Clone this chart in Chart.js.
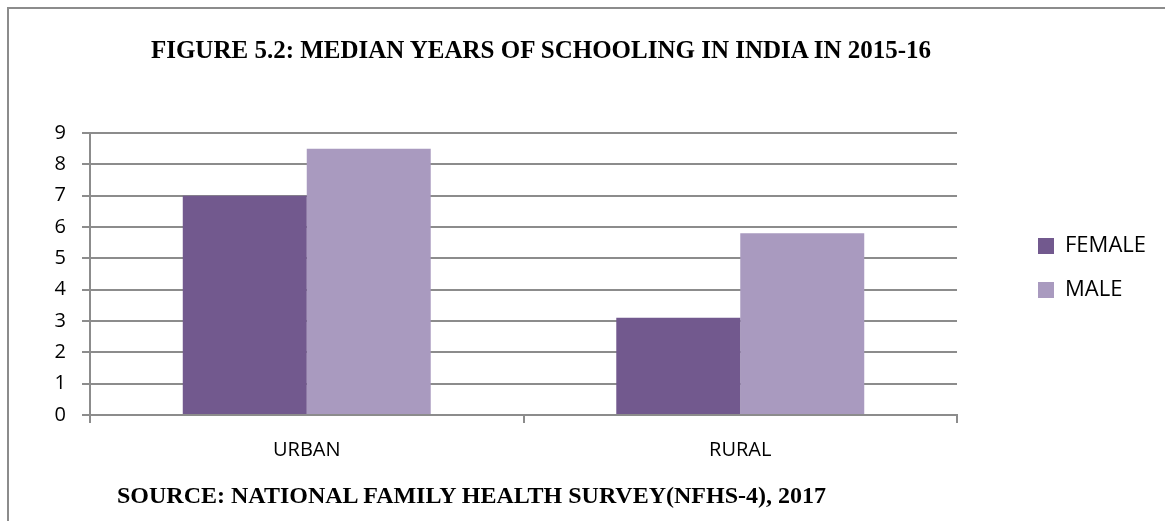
<!DOCTYPE html>
<html lang="en">
  <head>
    <meta charset="UTF-8" />
    <title>Median years of schooling</title>
    <script src="https://cdn.jsdelivr.net/npm/chart.js@4.4.0/dist/chart.umd.min.js"></script>
    <style>
      body { margin: 0; background: #fff; }
      #frame {
        position: absolute; left: 7px; top: 7px; width: 1160px; height: 520px;
        border-left: 2px solid #8c8c8c; border-top: 2px solid #8c8c8c;
      }
      #wrap { position: absolute; left: 0; top: 0; width: 1165px; height: 521px; }
      .caption {
        position: absolute; font-family: "Liberation Serif", serif; font-weight: bold;
        color: #000; white-space: nowrap;
      }
      #title { left: 0; width: 1082px; text-align: center; top: 36px; font-size: 25px; }
      #source { left: 117px; top: 482px; font-size: 24px; }
    </style>
  </head>
  <body>
    <div id="frame"></div>
    <div id="wrap"><canvas id="schooling-graph"></canvas></div>
    <div class="caption" id="title">FIGURE 5.2: MEDIAN YEARS OF SCHOOLING IN INDIA IN 2015-16</div>
    <div class="caption" id="source">SOURCE: NATIONAL FAMILY HEALTH SURVEY(NFHS-4), 2017</div>

    <script>
      const categories = ['URBAN', 'RURAL'];
      const female = [7.0, 3.1];
      const male = [8.5, 5.8];
      const yTicks = [0, 1, 2, 3, 4, 5, 6, 7, 8, 9];

      const tickFont = { family: "'Open Sans', sans-serif", size: 20 };
      const legendFont = { family: "'Open Sans', sans-serif", size: 22 };

      const ctx = document.getElementById('schooling-graph').getContext('2d');
      var schoolingGraph = new Chart(ctx, {
        type: 'bar',
        data: {
          labels: categories,
          datasets: [
            { label: 'FEMALE', data: female, backgroundColor: '#72598e', borderWidth: 0 },
            { label: 'MALE', data: male, backgroundColor: '#a99abf', borderWidth: 0 }
          ]
        },
        options: {
          responsive: true,
          maintainAspectRatio: false,
          animation: false,
          layout: { padding: { top: 133, bottom: 0, left: 0, right: 9 } },
          categoryPercentage: 0.572,
          barPercentage: 1.0,
          plugins: {
            tooltip: { enabled: false },
            legend: {
              position: 'right',
              align: 'start',
              // empty title only pushes the entries down beside the bars
              title: { display: true, text: ' ', font: { size: 10 }, padding: { top: 68, bottom: 0 } },
              labels: {
                color: '#000',
                font: legendFont,
                boxWidth: 16,
                boxHeight: 16,
                padding: 22
              }
            }
          },
          scales: {
            x: {
              grid: { display: true, drawOnChartArea: false, offset: true, color: '#8c8c8c', lineWidth: 2, tickLength: 8 },
              border: { color: '#8c8c8c', width: 2 },
              ticks: { color: '#000', font: tickFont, padding: 15 },
              afterFit: function (s) { s.height = 106; }
            },
            y: {
              min: 0,
              max: 9,
              afterBuildTicks: function (s) { s.ticks = yTicks.map(v => ({ value: v })); },
              grid: { color: '#8c8c8c', lineWidth: 2, tickLength: 8 },
              border: { color: '#8c8c8c', width: 2 },
              ticks: { color: '#000', font: tickFont, padding: 16 },
              afterFit: function (s) { s.width = 90; }
            },
            spacer: {
              position: 'right',
              display: true,
              grid: { display: false },
              border: { display: false },
              ticks: { display: false },
              afterFit: function (s) { s.width = 59; }
            }
          }
        }
      });
    </script>
  </body>
</html>
